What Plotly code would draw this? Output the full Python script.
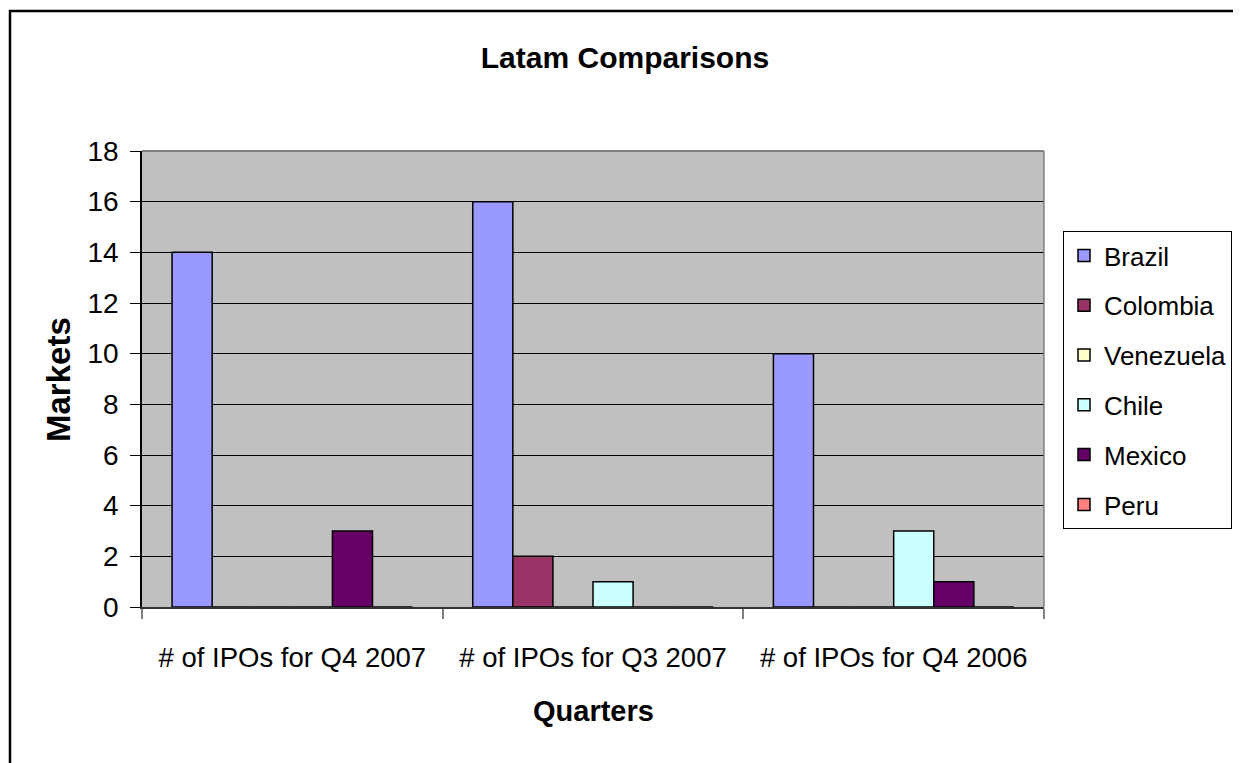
import plotly.graph_objects as go

categories = ["# of IPOs for Q4 2007", "# of IPOs for Q3 2007", "# of IPOs for Q4 2006"]
series_names = ["Brazil", "Colombia", "Venezuela", "Chile", "Mexico", "Peru"]
brazil = [14, 16, 10]
colombia = [0, 2, 0]
venezuela = [0, 0, 0]
chile = [0, 1, 3]
mexico = [3, 0, 1]
peru = [0, 0, 0]
series_values = [brazil, colombia, venezuela, chile, mexico, peru]
colors = ["#9999FF", "#993366", "#FFFFCC", "#CCFFFF", "#660066", "#FF8080"]
y_ticks = [0, 2, 4, 6, 8, 10, 12, 14, 16, 18]

FONT = "Arial, Liberation Sans, sans-serif"
OFF = 8  # default page body margin
W, H = 1241 - OFF, 763 - OFF
L, R, T, B = 142 - OFF, 1044 - OFF, 151 - OFF, 607 - OFF
pw, ph = R - L, B - T

def px_x(x):
    return (x - OFF - L) / pw

def px_y(y):
    return (B - (y - OFF)) / ph

fig = go.Figure()
for name, vals, col in zip(series_names, series_values, colors):
    fig.add_trace(go.Bar(
        name=name, x=categories, y=vals,
        marker=dict(color=col, line=dict(color="black", width=1.5)),
        legendgroup=name,
    ))

fig.update_layout(
    width=W, height=H,
    margin=dict(l=L, r=W - R, t=T, b=H - B, pad=0, autoexpand=False),
    paper_bgcolor="white",
    plot_bgcolor="#C0C0C0",
    barmode="group", bargap=0.2, bargroupgap=0,
    font=dict(family=FONT, color="black", size=26),
    title=dict(text="<b>Latam Comparisons</b>", font=dict(size=30, family=FONT, color="black"),
               xref="container", x=(625 - OFF) / W, xanchor="center",
               yref="container", y=1 - (57 - OFF) / H, yanchor="middle"),
    showlegend=True,
    legend=dict(xref="container", yref="container",
                x=(1063 - OFF) / W, y=1 - (231 - OFF) / H, xanchor="left", yanchor="top",
                bgcolor="white", bordercolor="black", borderwidth=1,
                font=dict(size=26, family=FONT, color="black"),
                traceorder="grouped", tracegroupgap=13),
)

fig.update_xaxes(
    type="category", tickson="boundaries", ticks="outside", ticklen=10,
    tickcolor="#808080", tickwidth=1.5,
    showline=True, linecolor="#333333", linewidth=1.5,
    showgrid=False, tickfont=dict(size=27.5), ticklabelstandoff=25,
)
fig.update_yaxes(
    range=[0, 18], tickvals=y_ticks, ticks="outside", ticklen=10,
    tickcolor="black", tickwidth=1.2,
    showline=True, linecolor="black", linewidth=1.5,
    showgrid=True, gridcolor="black", gridwidth=1,
    zeroline=False, tickfont=dict(size=28), ticklabelstandoff=6,
)

# plot-area border (top and right, gray)
fig.add_shape(type="line", xref="paper", yref="paper", x0=0, x1=1, y0=1, y1=1,
              line=dict(color="#808080", width=2), layer="above")
fig.add_shape(type="line", xref="paper", yref="paper", x0=1, x1=1, y0=0, y1=1,
              line=dict(color="#808080", width=1.5), layer="above")
# chart outer border
fig.add_shape(type="rect", xref="paper", yref="paper",
              x0=px_x(10), x1=px_x(1260), y0=px_y(11), y1=px_y(790),
              line=dict(color="black", width=2.5), fillcolor="rgba(0,0,0,0)", layer="above")

# axis titles
fig.add_annotation(text="<b>Quarters</b>", xref="paper", yref="paper",
                   x=0.5, y=px_y(711), xanchor="center", yanchor="middle",
                   showarrow=False, font=dict(size=29, family=FONT, color="black"))
fig.add_annotation(text="<b>Markets</b>", xref="paper", yref="paper",
                   x=px_x(58), y=px_y(380), xanchor="center", yanchor="middle",
                   textangle=-90, showarrow=False, font=dict(size=33, family=FONT, color="black"))

fig.write_html("out.html")
